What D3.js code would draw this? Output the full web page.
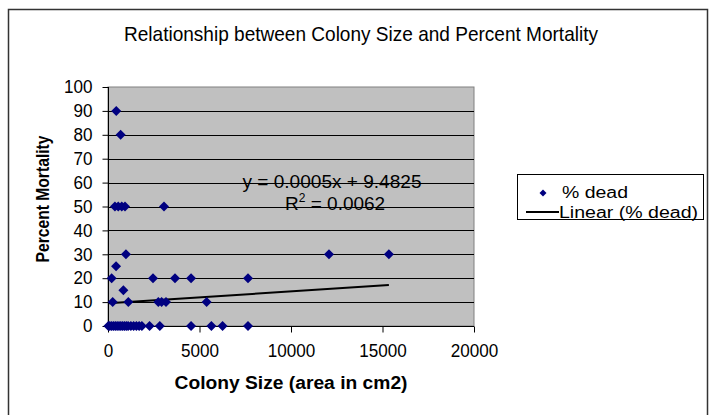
<!DOCTYPE html>
<html>
<head>
<meta charset="utf-8">
<script src="https://cdn.jsdelivr.net/npm/d3@7"></script>
<style>
  html, body { margin: 0; padding: 0; background: #fff; }
  svg { display: block; font-family: Arial, "Liberation Sans", sans-serif; }
</style>
</head>
<body>
<svg id="chart" width="713" height="415"></svg>
<script>
// ---- data ----
const colonySize = [
  450, 690,
  380, 560, 750, 930, 3060,
  980, 12075, 15350,
  440,
  200, 2460, 3660, 4540, 7650,
  840,
  255, 1110, 2750, 2930, 3170, 5390,
  20, 100, 200, 300, 400, 500, 600, 700, 800, 900, 1000, 1100, 1250, 1400, 1550, 1700, 1850, 2270, 2830, 4540, 5650, 6260, 7650
];
const percentDead = [
  90, 80,
  50, 50, 50, 50, 50,
  30, 30, 30,
  25,
  20, 20, 20, 20, 20,
  15,
  10, 10, 10, 10, 10, 10,
  0, 0, 0, 0, 0, 0, 0, 0, 0, 0, 0, 0, 0, 0, 0, 0, 0, 0, 0, 0, 0, 0, 0
];
const trendSlope = 0.0005;
const trendIntercept = 9.4825;
const equationText = "y = 0.0005x + 9.4825";
const r2Value = "0.0062";
const xTicks = [0, 5000, 10000, 15000, 20000];
const yTicks = [0, 10, 20, 30, 40, 50, 60, 70, 80, 90, 100];
const chartTitle = "Relationship between Colony Size and Percent Mortality";
const xTitle = "Colony Size (area in cm2)";
const yTitle = "Percent Mortality";
const legendLabels = ["% dead", "Linear (% dead)"];

const points = colonySize.map((x, i) => ({ x, y: percentDead[i] }));

// ---- layout ----
const svg = d3.select("#chart");
const plot = { left: 108, right: 474, top: 87, bottom: 326 };
const x = d3.scaleLinear().domain([0, 20000]).range([plot.left, plot.right]);
const y = d3.scaleLinear().domain([0, 100]).range([plot.bottom, plot.top]);

// outer frame
svg.append("rect")
  .attr("x", 8.5).attr("y", 9.5).attr("width", 699).attr("height", 420)
  .attr("fill", "#fff").attr("stroke", "#333").attr("stroke-width", 1.5);

// title
svg.append("text")
  .attr("x", 361).attr("y", 41).attr("text-anchor", "middle")
  .attr("font-size", 21).attr("textLength", 474).attr("lengthAdjust", "spacingAndGlyphs")
  .attr("fill", "#000").text(chartTitle);

// plot background
svg.append("rect")
  .attr("x", plot.left).attr("y", plot.top)
  .attr("width", plot.right - plot.left).attr("height", plot.bottom - plot.top)
  .attr("fill", "#c0c0c0").attr("stroke", "#808080").attr("stroke-width", 1);

// horizontal gridlines
svg.append("g").selectAll("line")
  .data(yTicks.filter(t => t > 0 && t < 100))
  .join("line")
  .attr("x1", plot.left).attr("x2", plot.right)
  .attr("y1", d => Math.round(y(d)) + 0.5).attr("y2", d => Math.round(y(d)) + 0.5)
  .attr("stroke", "#000").attr("stroke-width", 1);

// y axis
const yAxis = d3.axisLeft(y).tickValues(yTicks).tickSize(6).tickPadding(10).tickFormat(d3.format("d"));
const gy = svg.append("g").attr("transform", `translate(${plot.left + 0.5},0)`).call(yAxis);
gy.select(".domain").attr("stroke", "#000").attr("d", `M0,${plot.top}V${plot.bottom}`);
gy.selectAll(".tick line").attr("stroke", "#000");
gy.selectAll(".tick text").attr("font-size", 18).attr("fill", "#000")
  .attr("font-family", "Arial, 'Liberation Sans', sans-serif")
  .attr("textLength", d => String(d).length * 9.5).attr("lengthAdjust", "spacingAndGlyphs");

// x axis
const xAxis = d3.axisBottom(x).tickValues(xTicks).tickSize(6).tickPadding(12).tickFormat(d3.format("d"));
const gx = svg.append("g").attr("transform", `translate(0,${plot.bottom + 0.5})`).call(xAxis);
gx.select(".domain").attr("stroke", "#000").attr("d", `M${plot.left},0H${plot.right}`);
gx.selectAll(".tick line").attr("stroke", "#000");
gx.selectAll(".tick text").attr("font-size", 18).attr("fill", "#000")
  .attr("font-family", "Arial, 'Liberation Sans', sans-serif")
  .attr("textLength", d => String(d).length * 9.5).attr("lengthAdjust", "spacingAndGlyphs");

// trend line
const xExt = d3.extent(colonySize);
const trendData = xExt.map(v => ({ x: v, y: trendSlope * v + trendIntercept }));
svg.append("path")
  .datum(trendData)
  .attr("d", d3.line().x(d => x(d.x)).y(d => y(d.y)))
  .attr("fill", "none").attr("stroke", "#000").attr("stroke-width", 2);

// markers
const diamond = "M0,-5L5,0L0,5L-5,0Z";
svg.append("g").selectAll("path")
  .data(points)
  .join("path")
  .attr("d", diamond)
  .attr("transform", d => `translate(${x(d.x)},${y(d.y)})`)
  .attr("fill", "#000080");

// equation labels
svg.append("text")
  .attr("x", 332).attr("y", 188).attr("text-anchor", "middle")
  .attr("font-size", 19).attr("textLength", 179).attr("lengthAdjust", "spacingAndGlyphs")
  .attr("fill", "#000").text(equationText);
const r2 = svg.append("text")
  .attr("x", 285).attr("y", 210)
  .attr("font-size", 19).attr("fill", "#000");
r2.append("tspan").text("R");
r2.append("tspan").attr("font-size", 12).attr("dy", -8).text("2");
r2.append("tspan").attr("dy", 8).text(" = " + r2Value);

// axis titles
svg.append("text")
  .attr("x", 291).attr("y", 389).attr("text-anchor", "middle")
  .attr("font-size", 18).attr("font-weight", "bold")
  .attr("textLength", 233).attr("lengthAdjust", "spacingAndGlyphs")
  .attr("fill", "#000").text(xTitle);
svg.append("text")
  .attr("transform", "translate(49,199) rotate(-90)")
  .attr("text-anchor", "middle")
  .attr("font-size", 18).attr("font-weight", "bold")
  .attr("textLength", 127).attr("lengthAdjust", "spacingAndGlyphs")
  .attr("fill", "#000").text(yTitle);

// legend
const lg = svg.append("g");
lg.append("rect").attr("x", 517.5).attr("y", 174.5).attr("width", 186).attr("height", 45)
  .attr("fill", "#fff").attr("stroke", "#000").attr("stroke-width", 1);
lg.append("path").attr("d", "M0,-3.5L3.5,0L0,3.5L-3.5,0Z")
  .attr("transform", "translate(543,193)").attr("fill", "#000080");
lg.append("text").attr("x", 562).attr("y", 198).attr("font-size", 16)
  .attr("textLength", 66).attr("lengthAdjust", "spacingAndGlyphs")
  .attr("fill", "#000").text(legendLabels[0]);
lg.append("line").attr("x1", 526).attr("x2", 559).attr("y1", 212).attr("y2", 212)
  .attr("stroke", "#000").attr("stroke-width", 2);
lg.append("text").attr("x", 559).attr("y", 217.5).attr("font-size", 16)
  .attr("textLength", 139).attr("lengthAdjust", "spacingAndGlyphs")
  .attr("fill", "#000").text(legendLabels[1]);
</script>
</body>
</html>
